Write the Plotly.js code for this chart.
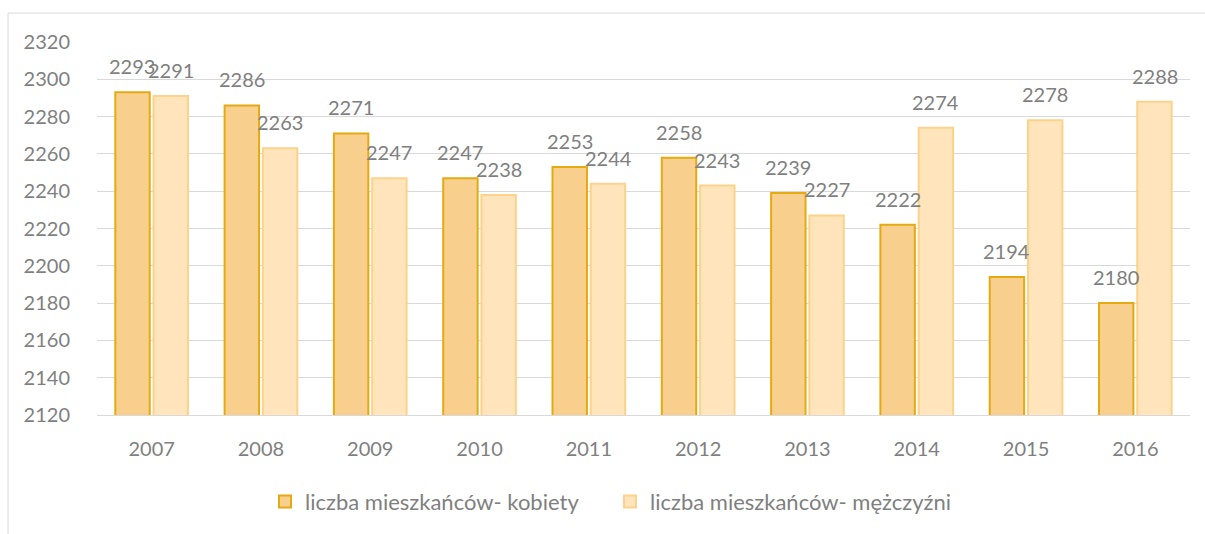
<!DOCTYPE html>
<html>
<head>
<meta charset="utf-8">
<script src="https://cdn.plot.ly/plotly-3.0.1.min.js"></script>
<style>html,body{margin:0;padding:0;background:#fff;}#chart{width:1205px;height:534px;}</style>
</head>
<body>
<div id="chart"></div>
<script>
const years = ['2007','2008','2009','2010','2011','2012','2013','2014','2015','2016'];
const kobiety = [2293, 2286, 2271, 2247, 2253, 2258, 2239, 2222, 2194, 2180];
const mezczyzni = [2291, 2263, 2247, 2238, 2244, 2243, 2227, 2274, 2278, 2288];
const seriesNames = ['liczba mieszkańców- kobiety', 'liczba mieszkańców- mężczyźni'];
const yTicks = [2120, 2140, 2160, 2180, 2200, 2220, 2240, 2260, 2280, 2300, 2320];

const FONT = 'Lato, "Open Sans", sans-serif';
const GRAY = '#7F7F7F';

const traces = [
  {
    type: 'bar', name: seriesNames[0], x: years, y: kobiety,
    marker: {color: '#F9CF8E', line: {color: '#E3AA12', width: 2}}
  },
  {
    type: 'bar', name: seriesNames[1], x: years, y: mezczyzni,
    marker: {color: '#FFE4BC', line: {color: '#FDD28A', width: 2}}
  }
];

// data labels above each bar (x given as category index), offset to the bar's slot in the group
function labels(vals, shift) {
  return years.map((yr, i) => ({
    x: i, y: vals[i], xref: 'x', yref: 'y', text: String(vals[i]),
    showarrow: false, xanchor: 'center', yanchor: 'bottom',
    xshift: shift, yshift: 12,
    font: {family: FONT, size: 20, color: GRAY}
  }));
}

const layout = {
  width: 1205, height: 534,
  margin: {l: 97, r: 15, t: 42, b: 118, pad: 0},
  paper_bgcolor: '#fff', plot_bgcolor: '#fff',
  font: {family: FONT, color: GRAY},
  barmode: 'group', bargap: 0.3, bargroupgap: 0.1,
  showlegend: true,
  legend: {orientation: 'h', x: 0.1537, xanchor: 'left', y: -0.229, yanchor: 'middle',
           entrywidth: 300, entrywidthmode: 'pixels',
           font: {family: FONT, size: 22, color: GRAY}, traceorder: 'normal'},
  xaxis: {
    type: 'category', categoryorder: 'array', categoryarray: years,
    range: [-0.5, years.length - 0.5], autorange: false,
    showgrid: false, showline: true, linecolor: '#D9D9D9', linewidth: 1,
    ticks: 'outside', ticklen: 16, tickcolor: 'rgba(0,0,0,0)',
    tickfont: {family: FONT, size: 20, color: GRAY}, zeroline: false, fixedrange: true
  },
  yaxis: {
    range: [2120, 2320], autorange: false, tickvals: yTicks, ticktext: yTicks.map(String),
    showgrid: true, gridcolor: '#D9D9D9', gridwidth: 1, zeroline: false, showline: false,
    ticks: 'outside', ticklen: 22, tickcolor: 'rgba(0,0,0,0)',
    tickfont: {family: FONT, size: 20, color: GRAY}, fixedrange: true
  },
  annotations: labels(kobiety, -19.2).concat(labels(mezczyzni, 19.2)),
  shapes: [{
    type: 'rect', xref: 'paper', yref: 'paper',
    x0: -0.0814, x1: 1.2, y0: -0.6, y1: 1.0775,
    line: {color: '#D9D9D9', width: 1}, fillcolor: 'rgba(0,0,0,0)', layer: 'below'
  }]
};

Plotly.newPlot('chart', traces, layout, {displayModeBar: false, staticPlot: true});
</script>
</body>
</html>
